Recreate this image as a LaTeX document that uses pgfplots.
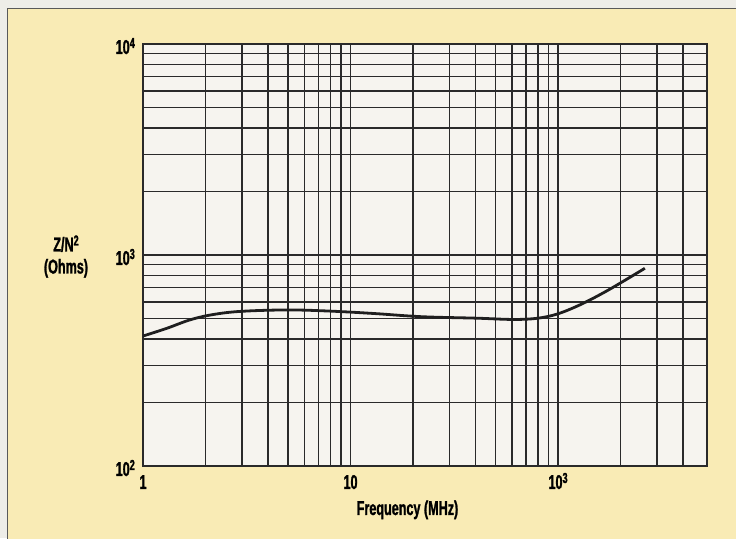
\documentclass[border=0pt]{standalone}
\usepackage{fontspec}
\setmainfont{Liberation Sans}[FakeStretch=0.63, BoldFeatures={FakeBold=1.3}]
\usepackage{pgfplots}
\pgfplotsset{compat=1.18}
\definecolor{cream}{HTML}{F9EBB5}
\definecolor{outerc}{HTML}{EEEDE8}
\definecolor{plotbg}{HTML}{F6F4EF}
\definecolor{gridc}{HTML}{2A2A2A}
\newcommand\ex[1]{\raisebox{6pt}{\fontsize{14.5}{15}\selectfont #1}}
\begin{document}
\begin{tikzpicture}[x=1pt,y=1pt]
\path[use as bounding box, fill=outerc] (-143,-72) rectangle (593,466);
\fill[cream] (-135,-80) rectangle (600,457);
\draw[line width=1pt, color=black!65] (-135,-80) -- (-135,457) -- (600,457);
\begin{axis}[
  at={(0,0)}, anchor=south west,
  scale only axis, width=564pt, height=422pt,
  xmode=log, ymode=log,
  xmin=1, xmax=522, ymin=100, ymax=10000,
  xtick={1,10,100}, xticklabels={1,10,10\ex{3}},
  minor xtick={2,3,4,5,6,7,8,9,20,30,40,50,60,70,80,90,200,300,400},
  ytick={100,1000,10000}, yticklabels={10\ex{2},10\ex{3},10\ex{4}},
  minor ytick={200,300,400,500,600,700,800,900,2000,3000,4000,5000,6000,7000,8000,9000},
  grid=both,
  major grid style={gridc, line width=1.5pt},
  minor grid style={gridc, line width=1.5pt},
  axis line style={gridc, line width=1.5pt},
  tick style={draw=none},
  major tick length=0pt, minor tick length=0pt,
  axis background/.style={fill=plotbg},
  ticklabel style={font=\fontsize{20}{22}\selectfont\bfseries, inner sep=0pt},
  xticklabel style={anchor=base, yshift=-23pt},
  yticklabel style={anchor=base east, xshift=-8pt, yshift=-10pt},
  xlabel={Frequency (MHz)},
  xlabel style={font=\fontsize{20}{22}\selectfont\bfseries, at={(axis description cs:0.469,0)}, anchor=base, yshift=-49pt, inner sep=0pt},
  ylabel={Z/N\ex{2}\\(Ohms)},
  ylabel style={font=\fontsize{20}{22}\selectfont\bfseries, rotate=-90, align=center, at={(axis description cs:0,0.4964)}, anchor=center, xshift=-77pt},
]
\addplot[black!88, line width=2.8pt, smooth, tension=0.6] coordinates {
(1,413) (1.3,449) (1.7,494) (2.2,523) (3,541) (5,549) (8,542) (13,528)
(22,510) (40,502) (65,495) (90,512) (120,565) (170,672) (262,865)
};
\end{axis}
\end{tikzpicture}
\end{document}
